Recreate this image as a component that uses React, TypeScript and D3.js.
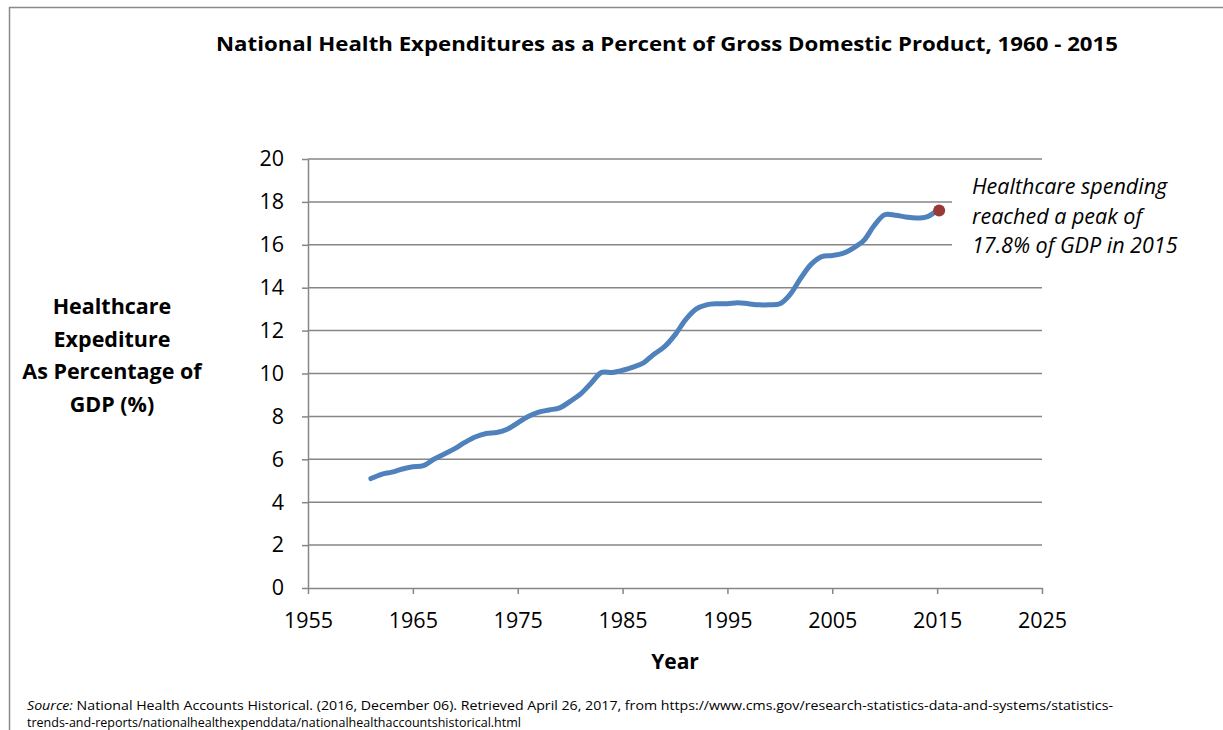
import { useEffect, useRef } from "react";
import * as d3 from "d3";

// values (% of GDP)
const years = [
  1961, 1962, 1963, 1964, 1965, 1966, 1967, 1968, 1969, 1970,
  1971, 1972, 1973, 1974, 1975, 1976, 1977, 1978, 1979, 1980,
  1981, 1982, 1983, 1984, 1985, 1986, 1987, 1988, 1989, 1990,
  1991, 1992, 1993, 1994, 1995, 1996, 1997, 1998, 1999, 2000,
  2001, 2002, 2003, 2004, 2005, 2006, 2007, 2008, 2009, 2010,
  2011, 2012, 2013, 2014, 2015,
];
const gdpShare = [
  5.1, 5.3, 5.4, 5.55, 5.65, 5.7, 6.0, 6.25, 6.5, 6.8,
  7.05, 7.2, 7.25, 7.4, 7.7, 8.0, 8.2, 8.3, 8.4, 8.7,
  9.05, 9.55, 10.05, 10.05, 10.15, 10.3, 10.5, 10.9, 11.25, 11.8,
  12.5, 13.0, 13.2, 13.25, 13.25, 13.3, 13.25, 13.2, 13.2, 13.25,
  13.7, 14.45, 15.1, 15.45, 15.5, 15.6, 15.85, 16.2, 16.9, 17.4,
  17.38, 17.3, 17.25, 17.3, 17.6,
];
const xTicks = [1955, 1965, 1975, 1985, 1995, 2005, 2015, 2025];
const yTicks = [0, 2, 4, 6, 8, 10, 12, 14, 16, 18, 20];
const peakYear = 2015;
const peakValue = 17.6;

const title = "National Health Expenditures as a Percent of Gross Domestic Product, 1960 - 2015";
const yLabelLines = ["Healthcare", "Expediture", "As Percentage of", "GDP (%)"];
const noteLines = ["Healthcare spending", "reached a peak of", "17.8% of GDP in 2015"];
const sourceLine1 =
  " National Health Accounts Historical. (2016, December 06). Retrieved April 26, 2017, from https://www.cms.gov/research-statistics-data-and-systems/statistics-";
const sourceLine2 = "trends-and-reports/nationalhealthexpenddata/nationalhealthaccountshistorical.html";

const W = 1223;
const H = 730;
const FONT = "'Open Sans', Lato, sans-serif";
const GRID = "#868686";

export default function App() {
  const svgRef = useRef<SVGSVGElement>(null);

  useEffect(() => {
    if (!svgRef.current) return;
    const svg = d3.select(svgRef.current);
    svg.selectAll("*").remove();

    const x = d3.scaleLinear().domain([1955, 2025]).range([308, 1042]);
    const y = d3.scaleLinear().domain([0, 20]).range([588, 159]);

    // outer frame (only top and left edges fall inside the picture)
    svg
      .append("rect")
      .attr("x", 9.5)
      .attr("y", 7.5)
      .attr("width", W + 100)
      .attr("height", H + 100)
      .attr("fill", "white")
      .attr("stroke", "#8a8a8a")
      .attr("stroke-width", 1.5);

    svg
      .append("text")
      .attr("x", 667)
      .attr("y", 51)
      .attr("text-anchor", "middle")
      .attr("font-family", FONT)
      .attr("font-weight", "bold")
      .attr("font-size", 20)
      .attr("textLength", 902)
      .attr("lengthAdjust", "spacingAndGlyphs")
      .text(title);

    const g = svg.append("g");

    // gridlines
    g.selectAll("line.grid")
      .data(yTicks.filter((t) => t > 0))
      .join("line")
      .attr("class", "grid")
      .attr("x1", x(1955))
      .attr("x2", x(2025))
      .attr("y1", (d) => y(d))
      .attr("y2", (d) => y(d))
      .attr("stroke", GRID)
      .attr("stroke-width", 1.5);

    // x axis
    const xAxis = d3
      .axisBottom(x)
      .tickValues(xTicks)
      .tickFormat(d3.format("d"))
      .tickSize(6)
      .tickSizeOuter(0);
    const xg = g.append("g").attr("transform", `translate(0,${y(0)})`).call(xAxis);
    xg.select(".domain").attr("stroke", GRID).attr("stroke-width", 1.5);
    xg.selectAll(".tick line").attr("stroke", GRID).attr("stroke-width", 1.5);
    xg.selectAll(".tick text")
      .attr("font-family", FONT)
      .attr("font-size", 21.5)
      .attr("fill", "#000")
      .attr("y", 17)
      .attr("dy", "1.05em");

    // y axis
    const yAxis = d3.axisLeft(y).tickValues(yTicks).tickSize(6).tickSizeOuter(0);
    const yg = g.append("g").attr("transform", `translate(${x(1955)},0)`).call(yAxis);
    yg.select(".domain").attr("stroke", GRID).attr("stroke-width", 1.5);
    yg.selectAll(".tick line").attr("stroke", GRID).attr("stroke-width", 1.5);
    yg.selectAll(".tick text")
      .attr("font-family", FONT)
      .attr("font-size", 21.5)
      .attr("fill", "#000")
      .attr("x", -24);

    // annotation box covers the gridlines behind it
    svg
      .append("rect")
      .attr("x", 952)
      .attr("y", 168)
      .attr("width", 260)
      .attr("height", 98)
      .attr("fill", "white");

    const line = d3
      .line<number>()
      .x((_, i) => x(years[i]))
      .y((d) => y(d))
      .curve(d3.curveCatmullRom.alpha(0.5));

    g.append("path")
      .datum(gdpShare)
      .attr("d", line)
      .attr("fill", "none")
      .attr("stroke", "#4F81BD")
      .attr("stroke-width", 5)
      .attr("stroke-linecap", "round")
      .attr("stroke-linejoin", "round");

    g.append("circle")
      .attr("cx", x(peakYear) + 2)
      .attr("cy", y(peakValue))
      .attr("r", 6)
      .attr("fill", "#993a37");

    const note = svg
      .append("text")
      .attr("font-family", FONT)
      .attr("font-style", "italic")
      .attr("font-size", 21.5);
    noteLines.forEach((l, i) => {
      note
        .append("tspan")
        .attr("x", 972)
        .attr("y", 194 + i * 29.5)
        .text(l);
    });

    const yl = svg
      .append("text")
      .attr("font-family", FONT)
      .attr("font-weight", "bold")
      .attr("font-size", 21.5)
      .attr("text-anchor", "middle");
    yLabelLines.forEach((l, i) => {
      yl.append("tspan")
        .attr("x", 112)
        .attr("y", 314 + i * 32.5)
        .text(l);
    });

    svg
      .append("text")
      .attr("x", 675)
      .attr("y", 669)
      .attr("text-anchor", "middle")
      .attr("font-family", FONT)
      .attr("font-weight", "bold")
      .attr("font-size", 21)
      .text("Year");

    const src = svg
      .append("text")
      .attr("x", 27)
      .attr("y", 710)
      .attr("font-family", FONT)
      .attr("font-size", 12.5)
      .attr("textLength", 1086)
      .attr("lengthAdjust", "spacingAndGlyphs");
    src.append("tspan").attr("font-style", "italic").text("Source:");
    src.append("tspan").text(sourceLine1);
    svg
      .append("text")
      .attr("x", 27)
      .attr("y", 727)
      .attr("font-family", FONT)
      .attr("font-size", 12.5)
      .text(sourceLine2);
  }, []);

  return (
    <svg
      ref={svgRef}
      width={W}
      height={H}
      style={{ position: "absolute", left: 0, top: 0, display: "block", background: "white" }}
    />
  );
}
